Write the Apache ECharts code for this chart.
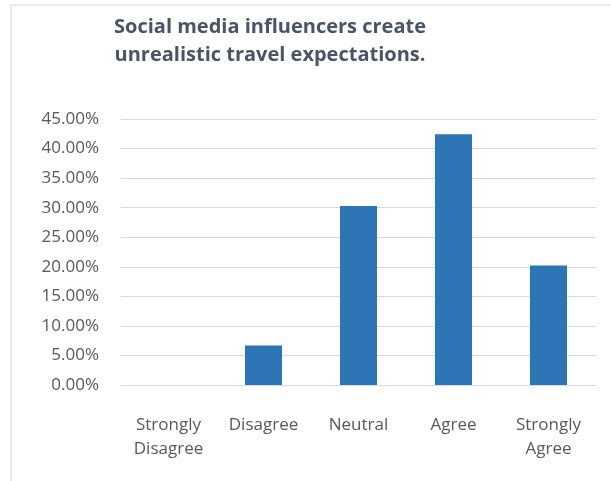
<!DOCTYPE html>
<html>
<head>
<meta charset="utf-8">
<script src="https://cdn.jsdelivr.net/npm/echarts@6/dist/echarts.min.js"></script>
<style>
  html, body { margin: 0; padding: 0; background: #fff; }
  #chart { width: 611px; height: 481px; }
</style>
</head>
<body>
<div id="chart"></div>
<script>
// Survey responses: share of respondents per answer (percent)
const categories = ['Strongly\nDisagree', 'Disagree', 'Neutral', 'Agree', 'Strongly\nAgree'];
const shares = [0, 6.7, 30.3, 42.4, 20.2];
const titleLines = ['Social media influencers create', 'unrealistic travel expectations.'];

const chart = echarts.init(document.getElementById('chart'), null, { renderer: 'canvas' });
const font = 'Open Sans';

chart.setOption({
  animation: false,
  backgroundColor: '#ffffff',
  graphic: [
    {
      // thin frame along the left and top edges
      type: 'polyline',
      shape: { points: [[11, 481], [11, 5], [611, 5]] },
      style: { stroke: '#d9d9d9', lineWidth: 1, fill: null },
      silent: true
    },
    {
      // two-line heading, centred over the plot
      type: 'text',
      x: 270,
      y: 13,
      silent: true,
      style: {
        text: titleLines.join('\n'),
        align: 'center',
        verticalAlign: 'top',
        fontFamily: font,
        fontSize: 20,
        fontWeight: 'bold',
        fill: '#4a5466',
        lineHeight: 28
      }
    }
  ],
  grid: { left: 121, right: 15, top: 119, bottom: 96, containLabel: false },
  xAxis: {
    type: 'category',
    data: categories,
    axisLine: { show: true, lineStyle: { color: '#d9d9d9' } },
    axisTick: { show: false },
    axisLabel: {
      interval: 0,
      margin: 28,
      fontFamily: font,
      fontSize: 17,
      lineHeight: 24,
      color: '#595959'
    }
  },
  yAxis: {
    type: 'value',
    min: 0,
    max: 45,
    interval: 5,
    axisLine: { show: false },
    axisTick: { show: false },
    splitLine: { lineStyle: { color: '#d9d9d9' } },
    axisLabel: {
      margin: 22,
      fontFamily: font,
      fontSize: 17,
      color: '#595959',
      formatter: v => v.toFixed(2) + '%'
    }
  },
  series: [{
    type: 'bar',
    data: shares,
    barWidth: '39%',
    itemStyle: { color: '#2e75b6' }
  }]
});
</script>
</body>
</html>
